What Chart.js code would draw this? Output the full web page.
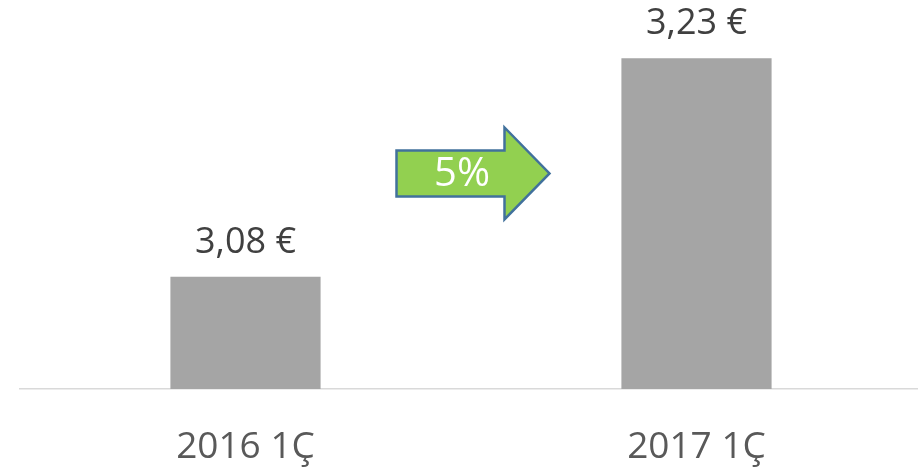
<!DOCTYPE html>
<html>
<head>
<meta charset="utf-8">
<script src="https://cdn.jsdelivr.net/npm/chart.js@4/dist/chart.umd.min.js"></script>
<style>
html,body{margin:0;padding:0;background:#fff;overflow:hidden;}
#wrap{width:918px;height:468px;overflow:hidden;position:relative;}
canvas{display:block;}
</style>
</head>
<body>
<div id="wrap"><canvas id="c" width="922" height="468"></canvas></div>
<script>
const categories = ["2016 1Ç", "2017 1Ç"];
const values = [3.08, 3.23];
const axisMin = 3.003;
const axisMax = 3.25;

const FONT = "'Open Sans', sans-serif";

function fmt(v){ return v.toFixed(2).replace('.', ',') + ' €'; }

const labelPlugin = {
  id: 'valueLabels',
  afterDatasetsDraw(chart){
    const ctx = chart.ctx;
    const meta = chart.getDatasetMeta(0);
    ctx.save();
    ctx.font = "36px " + FONT;
    ctx.fillStyle = '#404040';
    ctx.textAlign = 'center';
    ctx.textBaseline = 'middle';
    meta.data.forEach((bar, i) => {
      ctx.fillText(fmt(values[i]), bar.x, bar.y - 34);
    });
    ctx.restore();
  }
};

const arrowPlugin = {
  id: 'growthArrow',
  afterDatasetsDraw(chart){
    const ctx = chart.ctx;
    const meta = chart.getDatasetMeta(0);
    const b0 = meta.data[0], b1 = meta.data[1];
    const cx = (b0.x + b1.x) / 2 + 2;
    const cy = (b0.y + b1.y) / 2 + 6;
    const halfW = 76.5, bodyH = 23, headH = 46, headX = cx + 31.5;
    ctx.save();
    ctx.beginPath();
    ctx.moveTo(cx - halfW, cy - bodyH);
    ctx.lineTo(headX, cy - bodyH);
    ctx.lineTo(headX, cy - headH);
    ctx.lineTo(cx + halfW, cy);
    ctx.lineTo(headX, cy + headH);
    ctx.lineTo(headX, cy + bodyH);
    ctx.lineTo(cx - halfW, cy + bodyH);
    ctx.closePath();
    ctx.fillStyle = '#92D050';
    ctx.fill();
    ctx.lineWidth = 2.5;
    ctx.strokeStyle = '#41719C';
    ctx.lineJoin = 'miter';
    ctx.stroke();
    const pct = Math.round((values[1] / values[0] - 1) * 100);
    ctx.font = "40px " + FONT;
    ctx.fillStyle = '#FFFFFF';
    ctx.textAlign = 'center';
    ctx.textBaseline = 'middle';
    ctx.fillText(pct + '%', cx - 11, cy + 1);
    ctx.restore();
  }
};

new Chart(document.getElementById('c'), {
  type: 'bar',
  data: {
    labels: categories,
    datasets: [{
      data: values,
      backgroundColor: '#A5A5A5',
      borderWidth: 0,
      categoryPercentage: 1.0,
      barPercentage: 0.333
    }]
  },
  options: {
    responsive: false,
    animation: false,
    devicePixelRatio: 1,
    layout: { padding: { left: 20, right: 0, top: 29, bottom: 0 } },
    plugins: { legend: { display: false }, tooltip: { enabled: false } },
    scales: {
      x: {
        grid: { display: false, drawTicks: false },
        border: { display: true, color: '#D9D9D9', width: 1.5 },
        ticks: { color: '#595959', font: { family: FONT, size: 37 }, padding: 36 },
        afterFit(scale){ scale.height = 79; }
      },
      y: {
        display: false,
        min: axisMin,
        max: axisMax
      }
    }
  },
  plugins: [labelPlugin, arrowPlugin]
});
</script>
</body>
</html>
